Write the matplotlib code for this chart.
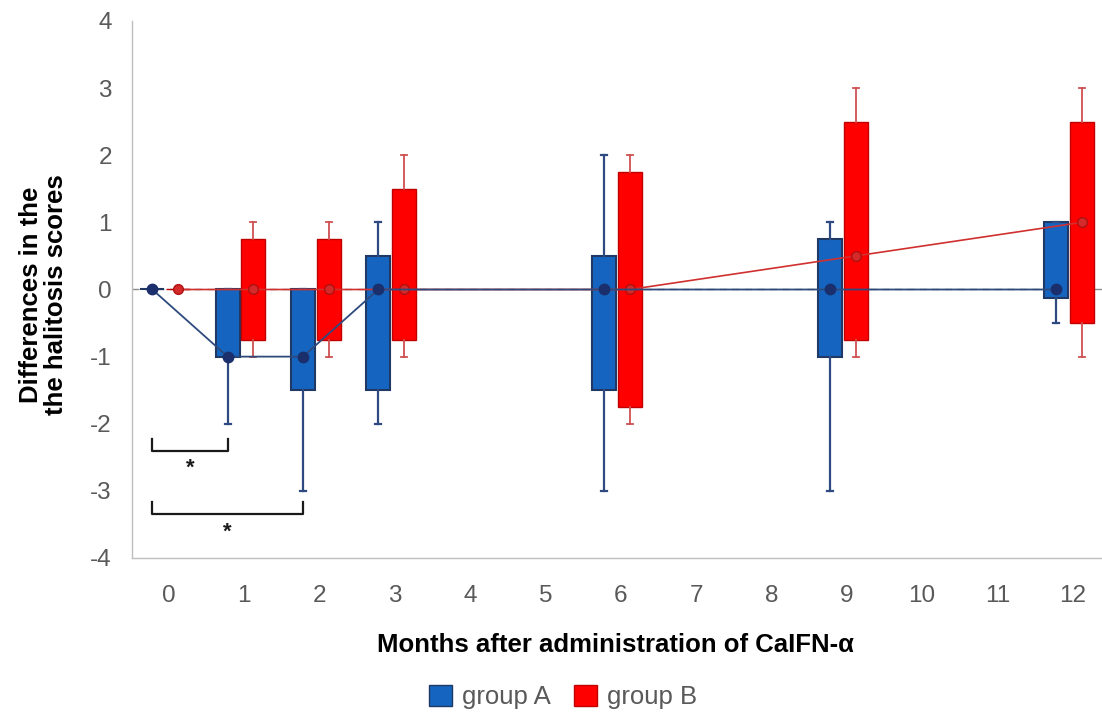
import matplotlib
matplotlib.use("Agg")
import matplotlib.pyplot as plt
from matplotlib.patches import Patch

plt.rcParams['font.family'] = ['Liberation Sans', 'DejaVu Sans']
plt.rcParams['axes.unicode_minus'] = False

months = [0, 1, 2, 3, 6, 9, 12]
tick_labels = [str(m) for m in range(13)]

# group A five-number summaries
a_min = [0, -2, -3, -2, -3, -3, -0.5]
a_q1 = [0, -1, -1.5, -1.5, -1.5, -1, -0.125]
a_med = [0, -1, -1, 0, 0, 0, 0]
a_q3 = [0, 0, 0, 0.5, 0.5, 0.75, 1]
a_max = [0, 0, 0, 1, 2, 1, 1]

# group B five-number summaries
b_min = [0, -1, -1, -1, -2, -1, -1]
b_q1 = [0, -0.75, -0.75, -0.75, -1.75, -0.75, -0.5]
b_med = [0, 0, 0, 0, 0, 0.5, 1]
b_q3 = [0, 0.75, 0.75, 1.5, 1.75, 2.5, 2.5]
b_max = [0, 1, 1, 2, 2, 3, 3]

fig = plt.figure(figsize=(11.02, 7.15), dpi=100)
ax = fig.add_axes([132 / 1102, 1 - 558 / 715, 1 - 132 / 1102, (558 - 21) / 715])

off = 0.17
width = 0.32
pos_a = [m - off for m in months]
pos_b = [m + off for m in months]


def stats(mn, q1, md, q3, mx):
    return [dict(whislo=a, q1=b, med=c, q3=d, whishi=e, fliers=[])
            for a, b, c, d, e in zip(mn, q1, md, q3, mx)]


blue_face = '#1565C0'
blue_edge = '#1F3864'
blue_wh = '#2F4A80'
red_face = '#FF0000'
red_edge = '#C00000'
red_wh = '#D05050'

ax.axhline(0, color='#8C8C8C', lw=1, ls=(0, (5, 4)), zorder=1)

ax.bxp(stats(a_min, a_q1, a_med, a_q3, a_max), positions=pos_a, widths=width,
       patch_artist=True, showfliers=False, capwidths=0.08,
       boxprops=dict(facecolor=blue_face, edgecolor=blue_edge, lw=1.5),
       whiskerprops=dict(color=blue_wh, lw=1.6),
       capprops=dict(color=blue_wh, lw=1.6),
       medianprops=dict(visible=False), zorder=2)
ax.bxp(stats(b_min, b_q1, b_med, b_q3, b_max), positions=pos_b, widths=width,
       patch_artist=True, showfliers=False, capwidths=0.08,
       boxprops=dict(facecolor=red_face, edgecolor=red_edge, lw=1.0),
       whiskerprops=dict(color=red_wh, lw=1.3),
       capprops=dict(color=red_wh, lw=1.3),
       medianprops=dict(visible=False), zorder=2)

ax.plot(pos_b, b_med, color='#D03030', lw=1.2, marker='o', ms=7,
        mfc='#D42A2A', mec='#B01010', zorder=4)
ax.plot(pos_a, a_med, color='#2E4A7D', lw=1.3, marker='o', ms=7.5,
        mfc='#1A2F6B', mec='#1A2F6B', zorder=5)


# significance brackets
def bracket(x0, x1, y, h, ys):
    ax.plot([x0, x0, x1, x1], [y + h, y, y, y + h], color='#1a1a1a', lw=1.6, zorder=5)
    ax.text((x0 + x1) / 2, ys, '*', ha='center', va='center', fontsize=16,
            fontweight='bold', color='#1a1a1a')


bracket(pos_a[0], pos_a[1], -2.40, 0.18, -2.66)
bracket(pos_a[0], pos_a[2], -3.35, 0.18, -3.62)

ax.set_xlim(-0.44, 12.44)
ax.set_ylim(-4, 4)
ax.set_yticks(range(-4, 5))
ax.set_xticks([i + 0.05 for i in range(13)])
ax.set_xticklabels(tick_labels)
ax.tick_params(axis='both', length=0, labelsize=17.5, labelcolor='#595959')
ax.tick_params(axis='x', pad=19.5)
ax.tick_params(axis='y', pad=14.5)
for s in ['top', 'right']:
    ax.spines[s].set_visible(False)
for s in ['left', 'bottom']:
    ax.spines[s].set_color('#BFBFBF')
    ax.spines[s].set_linewidth(1)

ax.set_ylabel('Differences in the\nthe halitosis scores', fontsize=18.5,
              fontweight='bold', color='black', linespacing=1.05)
ax.yaxis.set_label_coords(-0.066, 0.49)
ax.set_xlabel('Months after administration of CaIFN-α', fontsize=18.5,
              fontweight='bold', color='black')
ax.xaxis.set_label_coords(0.498, -0.140)

handles = [Patch(facecolor=blue_face, edgecolor=blue_edge, label='group A'),
           Patch(facecolor=red_face, edgecolor=red_edge, label='group B')]
fig.legend(handles=handles, loc='center', bbox_to_anchor=(0.511, 0.025), ncol=2,
           frameon=False, fontsize=18.5, handlelength=0.9, handleheight=0.9,
           handletextpad=0.4, columnspacing=0.9, labelcolor='#595959')

fig.savefig('out.png', dpi=100)
